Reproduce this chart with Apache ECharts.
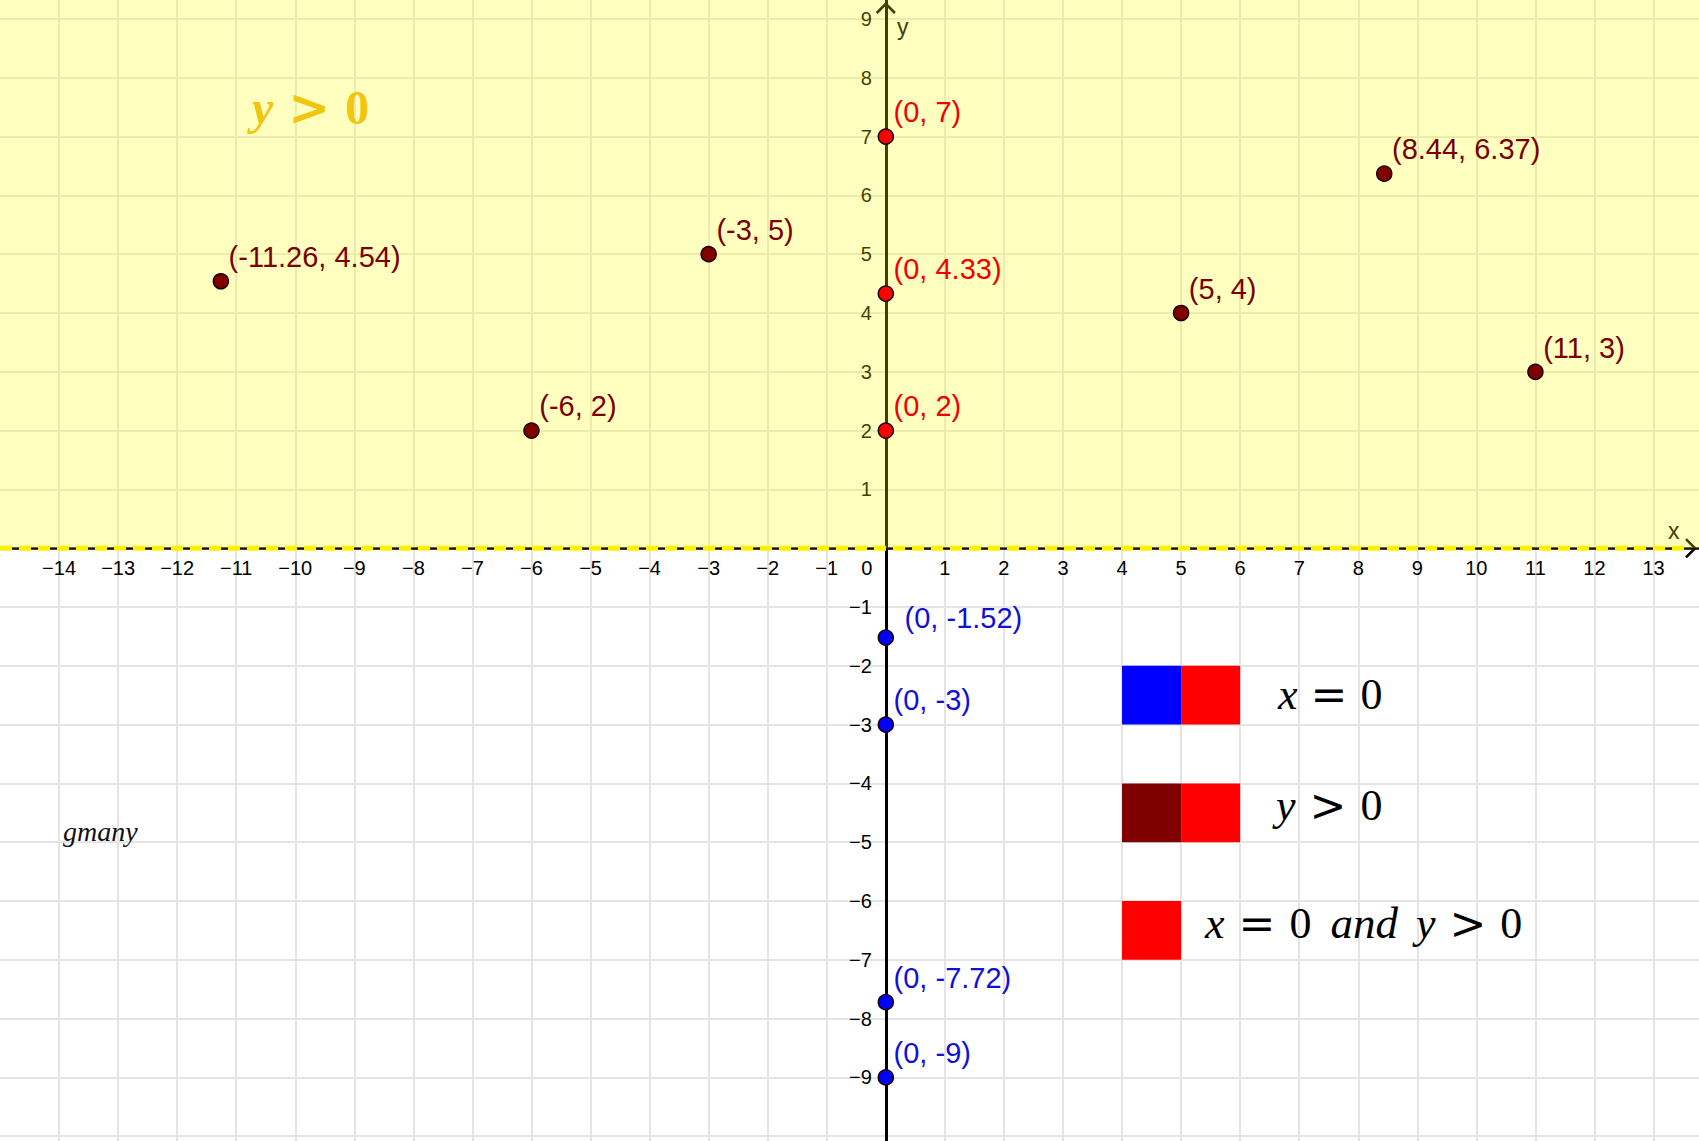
<!DOCTYPE html>
<html><head><meta charset="utf-8">
<script src="https://cdn.jsdelivr.net/npm/echarts@6/dist/echarts.min.js"></script>
<style>html,body{margin:0;padding:0;background:#fff;overflow:hidden}#c{width:1699px;height:1141px}</style>
</head><body><div id="c"></div>
<script>
// ---- data ----
const xRange = [-15, 13.77];
const yRange = [-11, 9.323];
const darkRedPoints = [[-11.26, 4.54], [-6, 2], [-3, 5], [5, 4], [8.44, 6.37], [11, 3]];
const redPoints = [[0, 7], [0, 4.33], [0, 2]];
const bluePoints = [[0, -1.52], [0, -3], [0, -7.72], [0, -9]];
// legend cells: [x0, y0, x1, y1]
const blueCells = [[4, -3, 5, -2]];
const redCells = [[5, -3, 6, -2], [5, -5, 6, -4], [4, -7, 5, -6]];
const darkRedCells = [[4, -5, 5, -4]];

// ---- layout & styles ----
const GRID = { left: 0, top: 0, width: 1699, height: 1195 };
const zeroX = GRID.left + (0 - xRange[0]) / (xRange[1] - xRange[0]) * GRID.width;
const zeroY = GRID.top + (yRange[1] - 0) / (yRange[1] - yRange[0]) * GRID.height;
const SANS = "'Liberation Sans', Arial, sans-serif";
const SERIF = "'Liberation Serif', 'Times New Roman', serif";
const OPF = "'DejaVu Serif', serif";
const C = { dark: '#800000', red: '#ff0000', blue: '#0000ff' };
const arrowPath = 'path://M10,0 L20,10 L18.2,11.8 L10,3.6 L1.8,11.8 L0,10 Z';
const labelOverride = { blue: { 0: [27, -11] } };

function fmtNum(v) {
  const r = Math.round(v);
  if (Math.abs(v - r) > 1e-6) return null;
  return String(r).replace('-', '\u2212');
}
function coordLabel(p) { return '(' + p.value[0] + ', ' + p.value[1] + ')'; }
function cellsToArea(cells, color) {
  return cells.map(c => [{ coord: [c[0], c[1]], itemStyle: { color: color } }, { coord: [c[2], c[3]] }]);
}
function pointSeries(name, data, fill, textColor) {
  return {
    type: 'scatter', name: name, z: 6,
    data: data.map((d, i) => {
      const o = { value: d };
      if (labelOverride[name] && labelOverride[name][i]) o.label = { position: labelOverride[name][i] };
      return o;
    }),
    symbol: 'circle', symbolSize: 15,
    itemStyle: { color: fill, borderColor: '#1a0000', borderWidth: 1.5, opacity: 1 },
    label: {
      show: true, position: [16, -16], align: 'left', verticalAlign: 'middle',
      formatter: coordLabel, fontSize: 29, fontFamily: SANS, color: textColor
    },
    emphasis: { disabled: true }, silent: true
  };
}

const chart = echarts.init(document.getElementById('c'), null, { renderer: 'svg' });
const gridColor = '#e4e4e4';
chart.setOption({
  animation: false,
  backgroundColor: '#ffffff',
  grid: Object.assign({ containLabel: false, outerBoundsMode: 'none' }, GRID),
  xAxis: {
    type: 'value', min: xRange[0], max: xRange[1], interval: 1,
    position: 'bottom', offset: zeroY - (GRID.top + GRID.height),
    axisLine: { onZero: false, lineStyle: { color: '#000', width: 2.5 }, symbol: ['none', arrowPath], symbolSize: [20, 12], symbolOffset: [0, -8] },
    axisTick: { show: false },
    splitLine: { show: true, showMinLine: false, showMaxLine: false, lineStyle: { color: gridColor, width: 2 } },
    axisLabel: {
      margin: 10, fontSize: 20, fontFamily: SANS, color: '#000', showMinLabel: false, showMaxLabel: false,
      formatter: v => { const s = fmtNum(v); if (s === null) return ''; return v === 0 ? '{o|0}' : s; },
      rich: { o: { fontSize: 20, fontFamily: SANS, color: '#000', padding: [0, 38, 0, 0] } }
    }
  },
  yAxis: {
    type: 'value', min: yRange[0], max: yRange[1], interval: 1,
    position: 'left', offset: GRID.left - zeroX,
    axisLine: { onZero: false, lineStyle: { color: '#000', width: 3 }, symbol: ['none', arrowPath], symbolSize: [20, 12], symbolOffset: [0, -8] },
    axisTick: { show: false },
    splitLine: { show: true, showMinLine: false, showMaxLine: false, lineStyle: { color: gridColor, width: 2 } },
    axisLabel: {
      margin: 14, fontSize: 20, fontFamily: SANS, color: '#000', showMaxLabel: false,
      formatter: v => { const s = fmtNum(v); if (s === null || v === 0 || v < -9.5) return ''; return s; }
    }
  },
  series: [
    {
      type: 'line', name: 'shade', z: 1, data: [], silent: true,
      markArea: {
        z: 1, silent: true, itemStyle: { color: 'rgba(255,255,0,0.25)' },
        data: [[{ coord: [xRange[0], 0] }, { coord: [xRange[1], yRange[1]] }]]
      }
    },
    {
      type: 'line', name: 'cells', z: 1, data: [], silent: true,
      markArea: {
        z: 1, silent: true,
        data: cellsToArea(blueCells, C.blue).concat(cellsToArea(redCells, C.red), cellsToArea(darkRedCells, C.dark))
      }
    },
    {
      type: 'line', name: 'boundary', z: 3, silent: true, symbol: 'none',
      data: [[xRange[0], 0], [13.55, 0]],
      lineStyle: { color: '#fff000', width: 5, type: [12, 7] }
    },
    pointSeries('dark', darkRedPoints, C.dark, '#7a0000'),
    pointSeries('red', redPoints, C.red, '#f00000'),
    pointSeries('blue', bluePoints, C.blue, '#1010d8')
  ],
  graphic: [
    { type: 'text', z: 100, x: 897, y: 27, style: { text: 'y', font: '23px ' + SANS, fill: '#404000', align: 'left', verticalAlign: 'middle' } },
    { type: 'text', z: 100, x: 1668, y: 531, style: { text: 'x', font: '23px ' + SANS, fill: '#404000', align: 'left', verticalAlign: 'middle' } },
    {
      type: 'text', z: 100, x: 252, y: 107, style: {
        text: '{v|y}{op|>}{n|0}', align: 'left', verticalAlign: 'middle',
        rich: {
          v: { font: 'italic bold 48px ' + SERIF, fill: '#efc70f' },
          op: { font: 'bold 50px ' + OPF, fill: '#efc70f', padding: [0, 15, 0, 15] },
          n: { font: 'bold 48px ' + SERIF, fill: '#efc70f' }
        }
      }
    },
    {
      type: 'text', z: 100, x: 1278, y: 694, style: {
        text: '{v|x}{op|=}{n|0}', align: 'left', verticalAlign: 'middle',
        rich: {
          v: { font: 'italic 44px ' + SERIF, fill: '#000' },
          op: { font: '44px ' + OPF, fill: '#000', padding: [0, 13, 0, 13] },
          n: { font: '44px ' + SERIF, fill: '#000' }
        }
      }
    },
    {
      type: 'text', z: 100, x: 1276, y: 805, style: {
        text: '{v|y}{op|>}{n|0}', align: 'left', verticalAlign: 'middle',
        rich: {
          v: { font: 'italic 44px ' + SERIF, fill: '#000' },
          op: { font: '44px ' + OPF, fill: '#000', padding: [0, 14, 0, 14] },
          n: { font: '44px ' + SERIF, fill: '#000' }
        }
      }
    },
    {
      type: 'text', z: 100, x: 1205, y: 923, style: {
        text: '{v|x}{op|=}{n|0}{w|and}{v|y}{op|>}{n|0}', align: 'left', verticalAlign: 'middle',
        rich: {
          v: { font: 'italic 44px ' + SERIF, fill: '#000' },
          w: { font: 'italic 45px ' + SERIF, fill: '#000', padding: [0, 18, 0, 19] },
          op: { font: '44px ' + OPF, fill: '#000', padding: [0, 14, 0, 14] },
          n: { font: '44px ' + SERIF, fill: '#000' }
        }
      }
    },
    { type: 'text', z: 100, x: 63, y: 831, style: { text: 'gmany', font: 'italic 28px ' + SERIF, fill: '#111', align: 'left', verticalAlign: 'middle' } }
  ]
});
</script>
</body></html>
